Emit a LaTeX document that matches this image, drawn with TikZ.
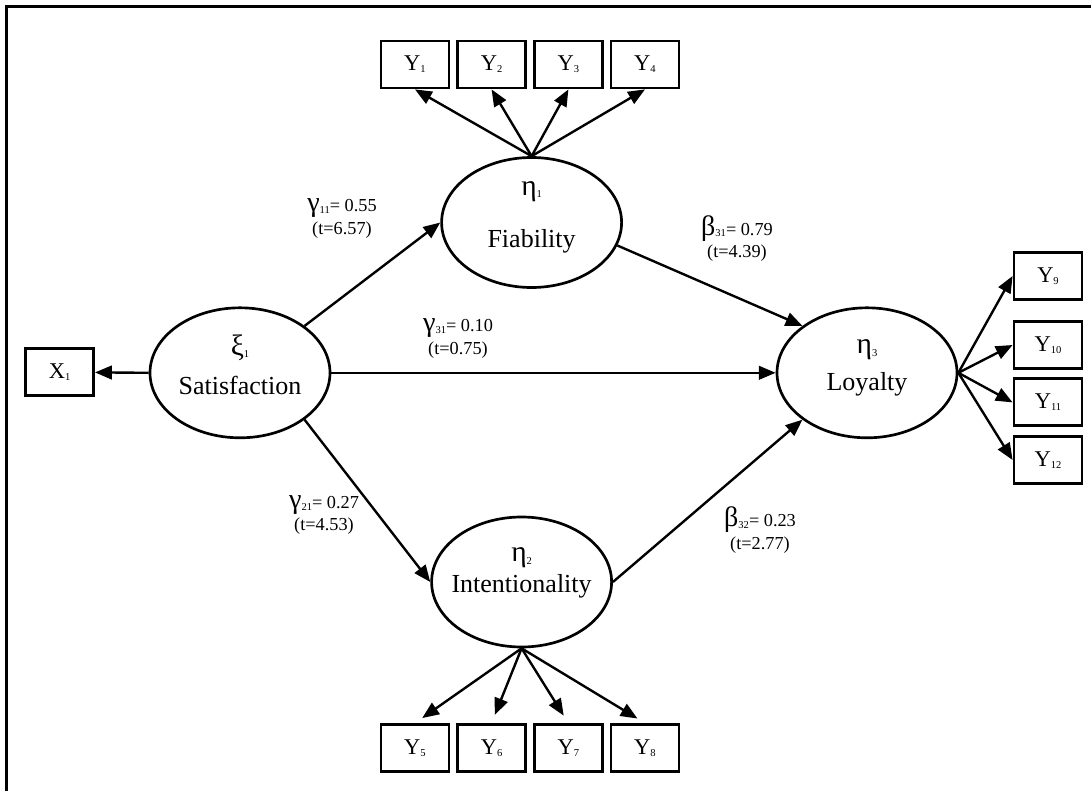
\documentclass[tikz,border=0pt]{standalone}
\usepackage{fontspec}
\setmainfont{Liberation Serif}
\usetikzlibrary{arrows.meta,shapes.geometric}
\newcommand{\idx}[1]{\raisebox{-0.1em}{\fontsize{7.5}{7.5}\selectfont #1}}
\newcommand{\grk}[1]{{\fontsize{21}{21}\selectfont #1}}
\newcommand{\coef}[4]{{\fontsize{20}{20}\selectfont #1}\idx{#2}= #3\\(t=#4)}

\begin{document}
\begin{tikzpicture}[
        lv/.style={draw, ellipse, line width=1.9pt, minimum width=4.5cm, minimum height=3.25cm, inner sep=0pt, align=center, font=\fontsize{18.5}{20}\selectfont},
        obs/.style={draw, line width=2pt, minimum width=1.7cm, minimum height=1.175cm, inner sep=0pt, font=\fontsize{16}{16}\selectfont},
        coeff/.style={align=center, font=\fontsize{13}{16}\selectfont},
        arr/.style={-{Triangle[length=4.2mm,width=3.4mm]}, line width=1.7pt}]
      \useasboundingbox (0,0) rectangle (27.275,-19.775);
      \draw[line width=2.2pt] (0.1625,-19.775) -- (0.1625,-0.1625) -- (27.275,-0.1625);
      % latent variables
      \node[lv, text depth=12pt] (sat) at (6.0,-9.32) {\makebox[0pt]{\grk{ξ}\idx{1}}\\[8pt]\makebox[0pt]{Satisfaction}};
      \node[lv, text depth=12pt] (eta1) at (13.29,-5.5625) {\makebox[0pt]{\grk{η}\idx{1}}\\[17pt]\makebox[0pt]{Fiability}};
      \node[lv, text depth=17pt] (eta2) at (13.04,-14.55) {\makebox[0pt]{\grk{η}\idx{2}}\\[2pt]\makebox[0pt]{Intentionality}};
      \node[lv, text depth=11pt] (loy) at (21.675,-9.32) {\makebox[0pt]{\grk{η}\idx{3}}\\[6pt]\makebox[0pt]{Loyalty}};
      % indicators
      \node[obs] (x1) at (1.49,-9.31) {X\idx{1}};
      \foreach \i/\x in {1/10.375, 2/12.29, 3/14.21, 4/16.125}
        \node[obs] (y\i) at (\x,-1.6125) {Y\idx{\i}};
      \foreach \i/\x in {5/10.375, 6/12.29, 7/14.21, 8/16.125}
        \node[obs] (y\i) at (\x,-18.7) {Y\idx{\i}};
      \foreach \i/\y in {9/-6.9, 10/-8.625, 11/-10.06, 12/-11.5}
        \node[obs] (y\i) at (26.2,\y) {Y\idx{\i}};
      % loadings
      \draw[arr] (sat.west) -- (x1.east);
      \foreach \i in {1,...,4}
        \draw[arr] (eta1.north) -- (y\i.south);
      \foreach \i in {5,...,8}
        \draw[arr, shorten >=0.22cm] (eta2.south) -- (y\i.north);
      \foreach \i in {9,...,12}
        \draw[arr] (loy.east) -- (y\i.west);
      % structural paths
      \draw[arr] (sat.north east) -- (eta1.west);
      \draw[arr] (sat.south east) -- (eta2.west);
      \draw[arr] (sat) -- (loy);
      \draw[arr] (eta1.-15) -- (loy.north west);
      \draw[arr] (eta2.east) -- (loy.south west);
      % coefficients
      \node[coeff] (g11) at (8.55,-5.46) {\coef{γ}{11}{0.55}{6.57}};
      \node[coeff] (g31) at (11.45,-8.46) {\coef{γ}{31}{0.10}{0.75}};
      \node[coeff] (b31) at (18.425,-5.96) {\coef{β}{31}{0.79}{4.39}};
      \node[coeff] (g21) at (8.1,-12.875) {\coef{γ}{21}{0.27}{4.53}};
      \node[coeff] (b32) at (19.0,-13.25) {\coef{β}{32}{0.23}{2.77}};
\end{tikzpicture}
\end{document}
